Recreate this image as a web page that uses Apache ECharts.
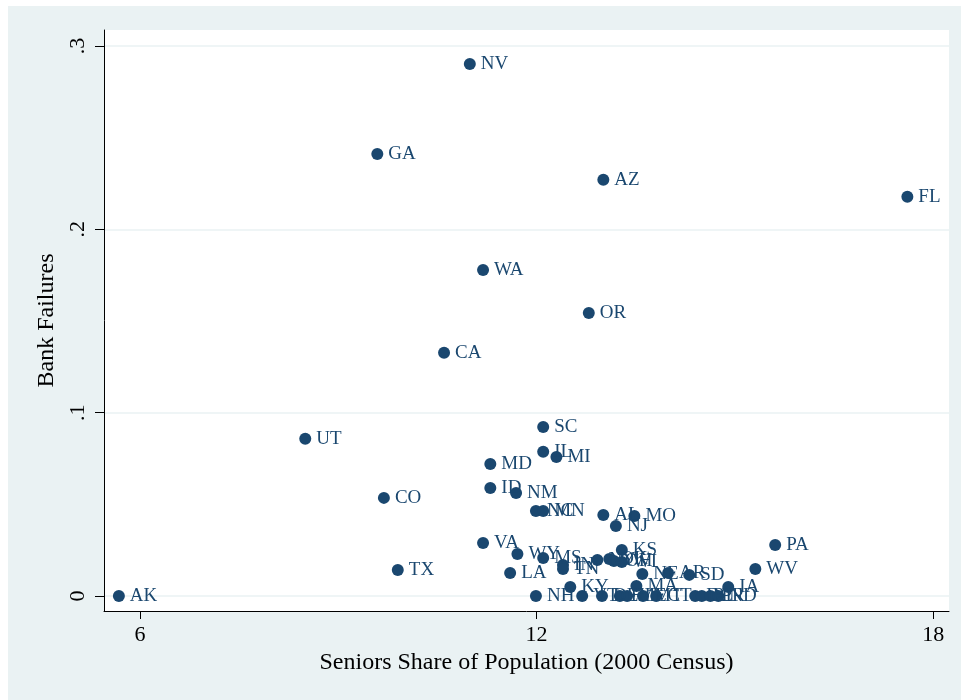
<!DOCTYPE html>
<html>
<head>
<meta charset="utf-8">
<script src="https://cdn.jsdelivr.net/npm/echarts@6/dist/echarts.min.js"></script>
<style>
html,body{margin:0;padding:0;background:#fff;}
#chart{width:961px;height:700px;}
</style>
</head>
<body>
<div id="chart"></div>
<script>
// state labels, seniors share (x) and bank failures (y)
var states = ['AK','UT','CO','TX','GA','CA','NV','WA','MD','ID','NM','VA','WY','LA',
    'SC','IL','MI','NC','MN','OR','AZ','FL','AL','MO','NJ','KS','MS','IN','TN',
    'NY','OK','OH','WI','NE','AR','SD','WV','PA','IA','MA','KY',
    'NH','VT','DE','HI','ME','MT','CT','DC','RI','PR','ND'];
var seniorShare = [5.68,8.50,9.69,9.90,9.59,10.60,10.99,11.19,11.30,11.30,11.69,11.19,11.71,11.60,
    12.10,12.10,12.30,11.99,12.10,12.79,13.01,17.61,13.01,13.48,13.20,13.29,12.10,12.40,12.40,
    12.92,13.10,13.17,13.29,13.60,13.99,14.31,15.31,15.61,14.90,13.51,12.51,
    11.99,12.69,12.99,13.26,13.37,13.61,13.81,14.40,14.50,14.63,14.75];
var bankFailures = [0,0.0857,0.0535,0.0142,0.2411,0.1326,0.2902,0.1778,0.0720,0.0589,0.0562,0.0289,0.0229,0.0125,
    0.0922,0.0786,0.0758,0.0464,0.0464,0.1544,0.2270,0.2177,0.0442,0.0436,0.0382,0.0251,0.0207,0.0169,0.0147,
    0.0196,0.0202,0.0191,0.0185,0.0120,0.0125,0.0115,0.0147,0.0278,0.0049,0.0055,0.0049,
    0,0,0,0,0,0,0,0,0,0,0];
var xTicks = [6, 12, 18];
var yTicks = [0, 0.1, 0.2, 0.3];

var navy = '#1a476f';
var font = 'Liberation Serif';

var points = [];
for (var i = 0; i < states.length; i++) {
    points.push({name: states[i], value: [seniorShare[i], bankFailures[i]]});
}
var gridLines = [];
for (var j = 0; j < yTicks.length; j++) {
    gridLines.push({yAxis: yTicks[j]});
}

var chart = echarts.init(document.getElementById('chart'));
chart.setOption({
    backgroundColor: '#fff',
    animation: false,
    graphic: [{
        type: 'rect', z: -10, silent: true,
        shape: {x: 8, y: 6, width: 953, height: 694},
        style: {fill: '#eaf2f3'}
    }],
    grid: {
        left: 104, top: 30, right: 12, bottom: 89,
        show: true, backgroundColor: '#fff', borderWidth: 0
    },
    xAxis: {
        type: 'value',
        min: 5.455, max: 18.24,
        name: 'Seniors Share of Population (2000 Census)',
        nameLocation: 'middle', nameGap: 40,
        nameTextStyle: {fontFamily: font, fontSize: 24, color: '#000'},
        axisLine: {show: true, onZero: false, lineStyle: {color: '#000', width: 1}},
        axisTick: {show: true, length: 8, customValues: xTicks, lineStyle: {color: '#000'}},
        axisLabel: {customValues: xTicks, margin: 13, fontFamily: font, fontSize: 22, color: '#000'},
        splitLine: {show: false}
    },
    yAxis: {
        type: 'value',
        min: -0.0082, max: 0.3087,
        name: 'Bank Failures',
        nameLocation: 'middle', nameGap: 45, nameRotate: 90,
        nameTextStyle: {fontFamily: font, fontSize: 24, color: '#000'},
        axisLine: {show: true, onZero: false, lineStyle: {color: '#000', width: 1}},
        axisTick: {show: true, length: 9, customValues: yTicks, lineStyle: {color: '#000'}},
        axisLabel: {
            customValues: yTicks, rotate: 90, margin: 15,
            fontFamily: font, fontSize: 22, color: '#000',
            formatter: function (v) {
                if (v === 0) return '0';
                return String(+v.toFixed(1)).replace(/^0/, '');
            }
        },
        splitLine: {show: false}
    },
    series: [{
        type: 'scatter',
        symbol: 'circle',
        symbolSize: 12,
        itemStyle: {color: navy, opacity: 1},
        label: {
            show: true, position: 'right', distance: 5, offset: [0, 3],
            formatter: '{b}', fontFamily: font, fontSize: 19, color: navy
        },
        labelLayout: {hideOverlap: false},
        data: points,
        markLine: {
            silent: true, symbol: 'none', z: 0,
            label: {show: false},
            lineStyle: {color: '#eaf2f3', type: 'solid', width: 1.5},
            data: gridLines
        }
    }]
});
</script>
</body>
</html>
